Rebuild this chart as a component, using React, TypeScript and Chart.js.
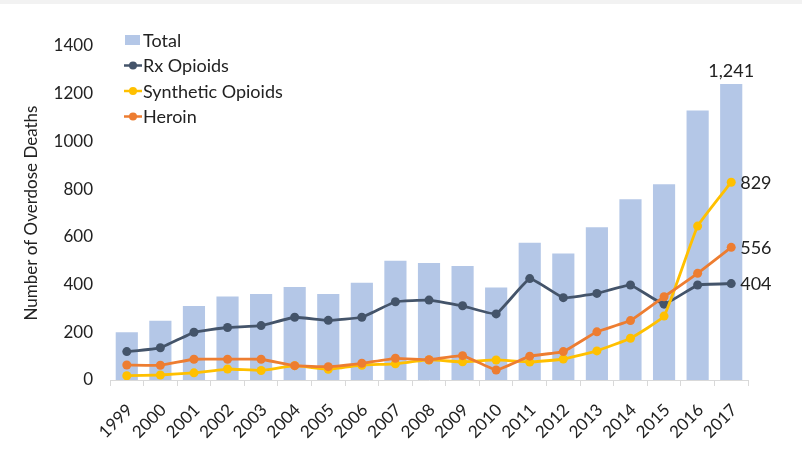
import React, { useEffect, useRef } from "react";
import { Chart, registerables } from "chart.js";

Chart.register(...registerables);

// Annual overdose deaths by category
const years = [
  "1999", "2000", "2001", "2002", "2003", "2004", "2005", "2006", "2007", "2008",
  "2009", "2010", "2011", "2012", "2013", "2014", "2015", "2016", "2017",
];
const totalDeaths = [200, 248, 310, 350, 360, 390, 360, 408, 500, 490, 478, 388, 575, 530, 640, 758, 820, 1130, 1241];
const rxOpioids = [119, 135, 200, 220, 228, 263, 250, 263, 328, 335, 311, 277, 425, 345, 363, 398, 318, 398, 404];
const syntheticOpioids = [18, 21, 30, 46, 40, 60, 45, 62, 68, 84, 76, 84, 75, 88, 122, 175, 268, 645, 829];
const heroin = [63, 62, 87, 87, 87, 60, 56, 70, 91, 85, 102, 42, 100, 119, 202, 249, 349, 447, 556];
const yTicks = [0, 200, 400, 600, 800, 1000, 1200, 1400];

const BAR_BLUE = "#b4c7e7";
const RX_SLATE = "#44546a";
const SYN_GOLD = "#ffc000";
const HER_ORANGE = "#ed7d31";
const TEXT_DARK = "#222222";
const FONT = "Lato, 'Open Sans', sans-serif";

const fmt = (v: number) => v.toLocaleString("en-US");

// Light frame strip along the top edge and a white page behind the plot
const backdrop = {
  id: "backdrop",
  beforeDraw(chart: any) {
    const { ctx, width, height } = chart;
    ctx.save();
    ctx.fillStyle = "#ffffff";
    ctx.fillRect(0, 0, width, height);
    ctx.fillStyle = "#f2f2f2";
    ctx.fillRect(0, 0, width, 4);
    ctx.restore();
  },
};

// Legend stacked inside the plot area, upper left
const insideLegend = {
  id: "insideLegend",
  afterDraw(chart: any) {
    const { ctx, chartArea } = chart;
    const x0 = chartArea.left + 14;
    const y0 = chartArea.top - 6;
    const rowH = 25.5;
    ctx.save();
    ctx.font = `18px ${FONT}`;
    ctx.textBaseline = "middle";
    ctx.textAlign = "left";
    chart.data.datasets.forEach((ds: any, i: number) => {
      const cy = y0 + i * rowH;
      if (ds.type === "bar") {
        ctx.fillStyle = ds.backgroundColor;
        ctx.fillRect(x0 + 1, cy - 5, 15, 10);
      } else {
        ctx.strokeStyle = ds.borderColor;
        ctx.lineWidth = 2.5;
        ctx.beginPath();
        ctx.moveTo(x0, cy);
        ctx.lineTo(x0 + 18, cy);
        ctx.stroke();
        ctx.fillStyle = ds.borderColor;
        ctx.beginPath();
        ctx.arc(x0 + 9, cy, 4, 0, Math.PI * 2);
        ctx.fill();
      }
      ctx.fillStyle = TEXT_DARK;
      ctx.fillText(ds.label, x0 + 19, cy + 1);
    });
    ctx.restore();
  },
};

// Value labels for the final year
const endLabels = {
  id: "endLabels",
  afterDatasetsDraw(chart: any) {
    const { ctx } = chart;
    const last = years.length - 1;
    ctx.save();
    ctx.font = `18px ${FONT}`;
    ctx.fillStyle = TEXT_DARK;
    chart.data.datasets.forEach((ds: any, i: number) => {
      const meta = chart.getDatasetMeta(i);
      const el = meta.data[last];
      if (!el) return;
      const v = ds.data[last];
      if (ds.type === "bar") {
        ctx.textAlign = "center";
        ctx.textBaseline = "bottom";
        ctx.fillText(fmt(v), el.x, el.y - 4);
      } else {
        ctx.textAlign = "left";
        ctx.textBaseline = "middle";
        ctx.fillText(fmt(v), el.x + 9, el.y + 1);
      }
    });
    ctx.restore();
  },
};

export default function App() {
  const canvasRef = useRef<HTMLCanvasElement | null>(null);

  useEffect(() => {
    document.body.style.margin = "0";
    const canvas = canvasRef.current;
    if (!canvas) return;

    const lineDs = (label: string, data: number[], color: string, order: number) => ({
      type: "line" as const,
      label,
      data,
      borderColor: color,
      backgroundColor: color,
      borderWidth: 2.8,
      pointRadius: 4.5,
      pointBackgroundColor: color,
      pointBorderColor: color,
      pointBorderWidth: 0,
      tension: 0.1,
      order,
    });

    const chart = new Chart(canvas, {
      type: "bar",
      data: {
        labels: years,
        datasets: [
          {
            type: "bar" as const,
            label: "Total",
            data: totalDeaths,
            backgroundColor: BAR_BLUE,
            categoryPercentage: 0.66,
            barPercentage: 1,
            order: 10,
          },
          lineDs("Rx Opioids", rxOpioids, RX_SLATE, 3),
          lineDs("Synthetic Opioids", syntheticOpioids, SYN_GOLD, 2),
          lineDs("Heroin", heroin, HER_ORANGE, 1),
        ] as any,
      },
      options: {
        animation: false,
        responsive: false,
        maintainAspectRatio: false,
        layout: { padding: { top: 46, right: 54, bottom: 0, left: 0 } },
        plugins: {
          legend: { display: false },
          tooltip: { enabled: false },
        },
        scales: {
          x: {
            grid: {
              display: true,
              offset: true,
              drawOnChartArea: false,
              drawTicks: true,
              tickLength: 6,
              color: "#d9d9d9",
            },
            border: { display: true, color: "#d9d9d9", width: 1 },
            ticks: {
              minRotation: 45,
              maxRotation: 45,
              padding: 14,
              labelOffset: 3,
              color: TEXT_DARK,
              font: { size: 17, family: FONT },
            },
            afterFit(scale: any) {
              scale.height = 85;
            },
          },
          y: {
            min: 0,
            max: 1400,
            afterBuildTicks(scale: any) {
              scale.ticks = yTicks.map((v) => ({ value: v }));
            },
            grid: { display: false },
            border: { display: false },
            ticks: {
              padding: 9,
              color: TEXT_DARK,
              font: { size: 17, family: FONT },
              callback: (v: any) => String(v),
            },
            title: {
              display: true,
              text: "Number of Overdose Deaths",
              color: TEXT_DARK,
              font: { size: 17, family: FONT },
              padding: { top: 21, bottom: 0 },
            },
            afterFit(scale: any) {
              scale.width = 110;
            },
          },
        },
      },
      plugins: [backdrop, insideLegend, endLabels],
    });

    return () => chart.destroy();
  }, []);

  return (
    <div style={{ width: 802, height: 465, position: "relative" }}>
      <canvas ref={canvasRef} width={802} height={465} style={{ display: "block" }} />
    </div>
  );
}
